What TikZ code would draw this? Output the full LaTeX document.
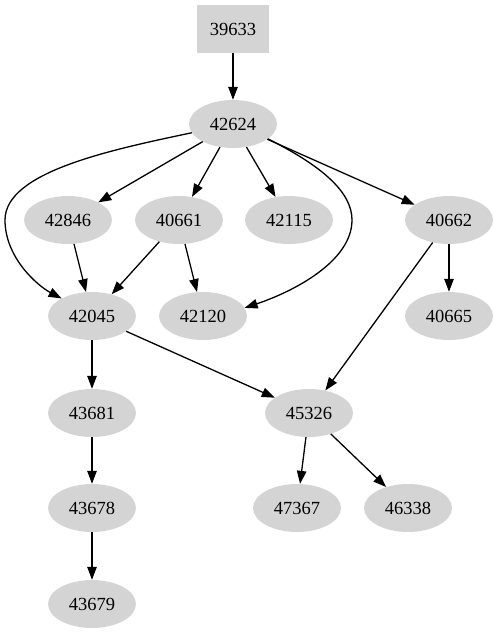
\documentclass[tikz,border=0pt]{standalone}
\usepackage{fontspec}
\setmainfont{Liberation Serif}
\usetikzlibrary{shapes.geometric,arrows.meta}
\begin{document}
\begin{tikzpicture}[x=1pt,y=-1pt,
  ell/.style={ellipse,fill=black!17,minimum width=88pt,minimum height=48pt,inner sep=0pt,font=\fontsize{18.5}{20}\selectfont},
  boxn/.style={rectangle,fill=black!17,minimum width=72pt,minimum height=48pt,inner sep=0pt,font=\fontsize{18.5}{20}\selectfont},
  edge/.style={-{Triangle[length=13pt,width=9.5pt]},line width=1.3pt}]
\useasboundingbox (0,0) rectangle (498,635);
\node[boxn] (n39633) at (233,29) {39633};
\node[ell] (n42624) at (233,124) {42624};
\node[ell] (n42846) at (68,220) {42846};
\node[ell] (n40661) at (179,220) {40661};
\node[ell] (n42115) at (289,220) {42115};
\node[ell] (n40662) at (449,220) {40662};
\node[ell] (n42045) at (92,316) {42045};
\node[ell] (n42120) at (203,316) {42120};
\node[ell] (n40665) at (449,316) {40665};
\node[ell] (n43681) at (92,413) {43681};
\node[ell] (n45326) at (309,413) {45326};
\node[ell] (n43678) at (92,508) {43678};
\node[ell] (n47367) at (297,508) {47367};
\node[ell] (n46338) at (408,508) {46338};
\node[ell] (n43679) at (92,604) {43679};
\draw[edge] (n39633) -- (n42624);
\draw[edge] (n42624) -- (n42846);
\draw[edge] (n42624) -- (n40661);
\draw[edge] (n42624) -- (n42115);
\draw[edge] (n42624) -- (n40662);
\draw[edge] (n42624.192) .. controls (110,150) and (5,172) .. (5,220) .. controls (5,258) and (38,286) .. (n42045.150);
\draw[edge] (n42624.337) .. controls (322,166) and (352,192) .. (352,220) .. controls (352,262) and (292,292) .. (n42120.11);
\draw[edge] (n42846) -- (n42045);
\draw[edge] (n40661) -- (n42045);
\draw[edge] (n40661) -- (n42120);
\draw[edge] (n40662) -- (n40665);
\draw[edge] (n40662) -- (n45326);
\draw[edge] (n42045) -- (n43681);
\draw[edge] (n42045) -- (n45326);
\draw[edge] (n45326) -- (n47367);
\draw[edge] (n45326) -- (n46338);
\draw[edge] (n43681) -- (n43678);
\draw[edge] (n43678) -- (n43679);
\end{tikzpicture}
\end{document}
